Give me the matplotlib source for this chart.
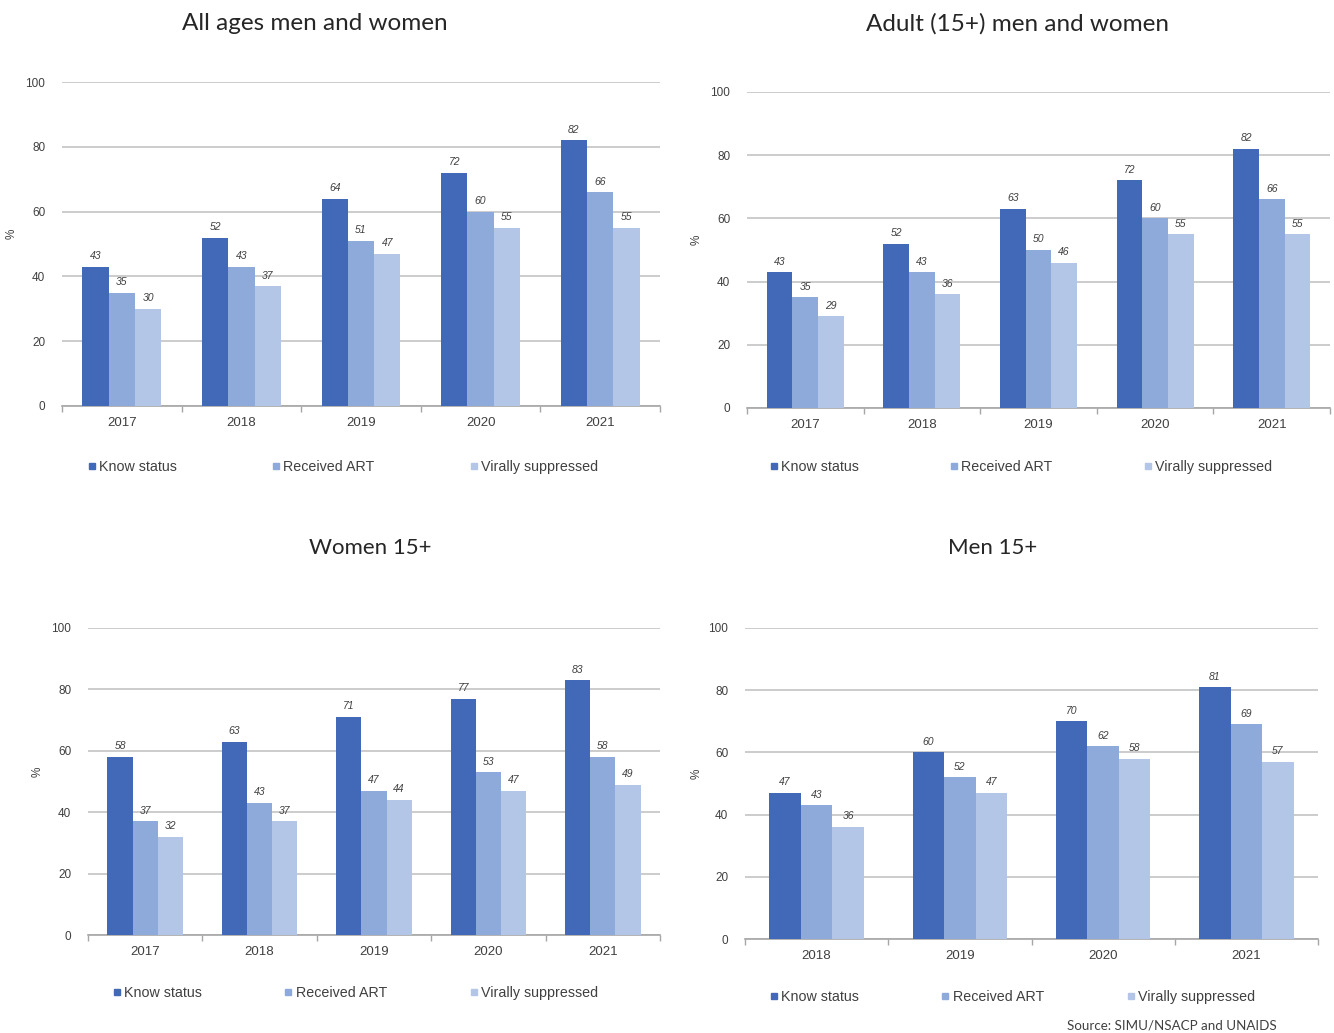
import numpy as np
import matplotlib
matplotlib.use("Agg")
import matplotlib.pyplot as plt
from matplotlib.lines import Line2D

# Cascade values (%) per panel
series_names = ["Know status", "Received ART", "Virally suppressed"]
colors = ["#4169b8", "#8eaadb", "#b4c6e7"]

years_all = ["2017", "2018", "2019", "2020", "2021"]
all_know = [43, 52, 64, 72, 82]
all_art = [35, 43, 51, 60, 66]
all_vs = [30, 37, 47, 55, 55]

adult_know = [43, 52, 63, 72, 82]
adult_art = [35, 43, 50, 60, 66]
adult_vs = [29, 36, 46, 55, 55]

women_know = [58, 63, 71, 77, 83]
women_art = [37, 43, 47, 53, 58]
women_vs = [32, 37, 44, 47, 49]

years_men = ["2018", "2019", "2020", "2021"]
men_know = [47, 60, 70, 81]
men_art = [43, 52, 62, 69]
men_vs = [36, 47, 58, 57]

titles = ["All ages men and women", "Adult (15+) men and women", "Women 15+", "Men 15+"]

W, H = 1334, 1033
fig = plt.figure(figsize=(W / 100, H / 100), dpi=100)

TICK_FONT = "Liberation Sans"
TITLE_FONT = "Lato"
TXT = "#404040"
GRID = "#c4c4c4"


def fx(px):
    return px / W


def fy(py):
    return 1 - py / H


def panel(rect, years, data, title, title_xy, title_size, legend_px, ylabel_x):
    left, top, right, bottom = rect
    ax = fig.add_axes([fx(left), fy(bottom), fx(right - left), (bottom - top) / H])
    n = len(years)
    x = np.arange(n)
    bw = 0.22
    for i, vals in enumerate(data):
        bars = ax.bar(x + (i - 1) * bw, vals, width=bw, color=colors[i], zorder=3)
        for b, v in zip(bars, vals):
            ax.annotate(f"{v}", (b.get_x() + b.get_width() / 2, v),
                        xytext=(0, 4), textcoords="offset points",
                        ha="center", va="bottom", fontsize=7.5, style="italic",
                        family=TICK_FONT, color=TXT)
    ax.set_xlim(-0.5, n - 0.5)
    ax.set_ylim(0, 100)
    ax.set_yticks(range(0, 101, 20))
    ax.yaxis.grid(True, color=GRID, linewidth=1.2, zorder=0)
    ax.set_axisbelow(True)
    for s in ["top", "right", "left"]:
        ax.spines[s].set_visible(False)
    ax.spines["bottom"].set_color("#a6a6a6")
    ax.spines["bottom"].set_linewidth(1.2)
    ax.tick_params(axis="y", length=0, pad=12, labelsize=8.5, labelcolor=TXT)
    ax.set_xticks(x)
    ax.set_xticklabels(years)
    ax.tick_params(axis="x", length=0, pad=8, labelsize=9.5, labelcolor=TXT)
    ax.set_xticks(np.arange(-0.5, n, 1.0), minor=True)
    ax.tick_params(axis="x", which="minor", length=4, direction="out", color="#a6a6a6", width=1)
    for lab in ax.get_xticklabels() + ax.get_yticklabels():
        lab.set_family(TICK_FONT)
    fig.text(fx(ylabel_x), fy((top + bottom) / 2 - 10), "%", rotation=90,
             ha="center", va="center", fontsize=8.5, family=TICK_FONT, color=TXT)
    fig.text(fx(title_xy[0]), fy(title_xy[1]), title, ha="center", va="center",
             fontsize=title_size, family=TITLE_FONT, color="#262626")
    handles = [Line2D([], [], marker="s", linestyle="none", markersize=4,
                      color=c) for c in colors]
    lx0, lx1, ly = legend_px
    fig.legend(handles, series_names, ncol=3, mode="expand",
               bbox_to_anchor=(fx(lx0), fy(ly) - 0.01, fx(lx1 - lx0), 0.02),
               loc="center", frameon=False, borderaxespad=0, borderpad=0,
               handlelength=0.5, handletextpad=0.25,
               prop={"family": TICK_FONT, "size": 10.3}, labelcolor=TXT)
    return ax


panel((62, 82, 660, 406), years_all, [all_know, all_art, all_vs], titles[0],
      (315, 24), 17.5, (88, 598, 467), 12)
panel((747, 92, 1330, 408), years_all, [adult_know, adult_art, adult_vs], titles[1],
      (1017, 24), 17.5, (770, 1272, 467), 697)
panel((88, 628, 660, 935), years_all, [women_know, women_art, women_vs], titles[2],
      (370, 548), 16, (113, 598, 993), 38)
panel((745, 628, 1318, 939), years_men, [men_know, men_art, men_vs], titles[3],
      (993, 548), 16, (770, 1255, 997), 697)

fig.text(fx(1172), fy(1025), "Source: SIMU/NSACP and UNAIDS", ha="center", va="center",
         fontsize=9.6, family=TITLE_FONT, color=TXT)

fig.savefig("out.png", dpi=100, facecolor="white")
